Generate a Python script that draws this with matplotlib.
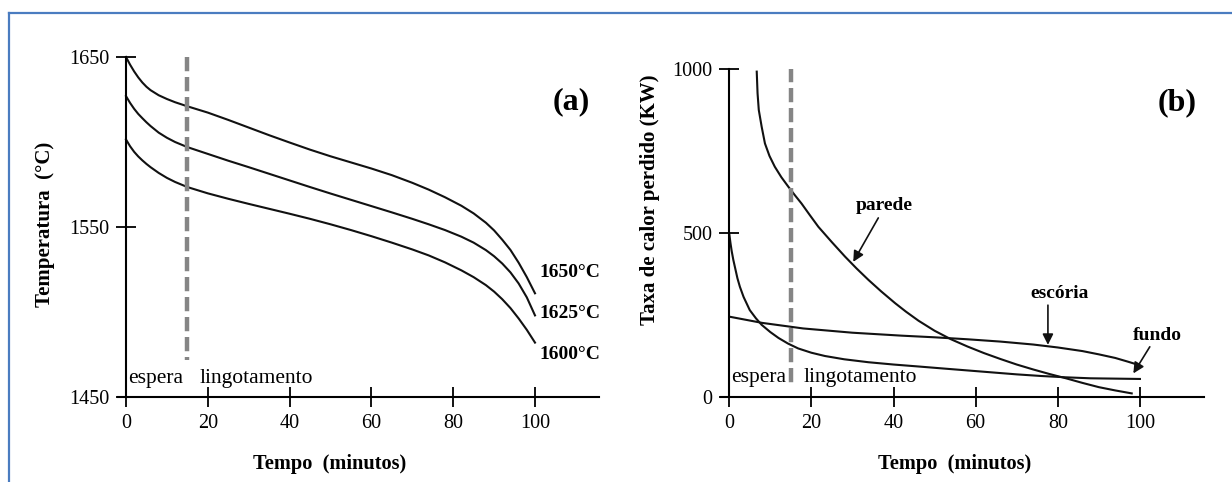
import matplotlib
matplotlib.use("Agg")
import matplotlib.pyplot as plt
from matplotlib.lines import Line2D

plt.rcParams['font.family'] = ['Liberation Serif', 'DejaVu Serif']

# painel (a): temperatura do aço na panela
tempo_a = [0, 1, 2, 3, 4, 5, 6, 8, 10, 12, 15, 20, 25, 30, 35, 40, 45, 50, 55, 60,
           65, 70, 74, 78, 82, 85, 88, 90, 92, 94, 96, 98, 100]
temp_1650 = [1650, 1645.5, 1641.5, 1638, 1635, 1632.5, 1630.5, 1627.5, 1625.3, 1623.4, 1621,
             1617.3, 1613, 1608.5, 1604, 1599.7, 1595.5, 1591.6, 1588, 1584.4, 1580.5, 1576,
             1572, 1567.5, 1562.5, 1558, 1552.5, 1548, 1542.5, 1536.5, 1529, 1520.5, 1511]
temp_1625 = [1627, 1623, 1619.5, 1616.5, 1614, 1611.6, 1609.4, 1605.5, 1602.5, 1600, 1597,
             1593, 1589, 1585.2, 1581.3, 1577.4, 1573.5, 1569.7, 1566, 1562.3, 1558.6, 1554.8,
             1551.6, 1548.2, 1544.3, 1540.8, 1536.4, 1532.8, 1528.5, 1523.3, 1516.8, 1508.6, 1498]
temp_1600 = [1601.5, 1597.5, 1594.2, 1591.5, 1589.2, 1587.1, 1585.2, 1581.8, 1578.9, 1576.5,
             1573.5, 1569.8, 1566.6, 1563.6, 1560.7, 1557.8, 1554.8, 1551.6, 1548.2, 1544.6,
             1540.8, 1536.8, 1533.3, 1529.2, 1524.5, 1520.5, 1515.8, 1512, 1507.5, 1502.3,
             1496.2, 1489.5, 1482]
rotulos_a = ['1650°C', '1625°C', '1600°C']
pos_rotulos_a = [1523, 1499, 1475]

# painel (b): taxa de calor perdido
tempo_parede = [6.7, 6.9, 7.2, 7.9, 8.7, 9.8, 11.1, 12.7, 14.4, 16, 17.6, 19.6, 21.7, 25,
                28.2, 31, 33.9, 37, 40.4, 43, 46.1, 50, 54, 58, 62, 66, 70, 74, 78, 82,
                86, 90, 94, 98]
q_parede = [992, 926, 875, 824, 773, 735, 702, 670, 641, 615, 590, 555, 519, 472, 428, 392,
            357, 322, 286, 260.5, 232.5, 202, 176, 154, 134, 116, 99, 84, 70, 57, 43, 30, 20, 11]
tempo_fundo = [0, 0.3, 0.6, 1.0, 1.5, 2.0, 2.6, 3.5, 5.0, 6.5, 7.9, 10, 12, 14.3, 16.8, 20,
               23.3, 28, 33.9, 40, 46.1, 52, 58, 64, 70, 76, 82, 88, 94, 100]
q_fundo = [499, 470, 445, 418, 390, 362, 336, 305, 265, 240, 220, 198, 180, 163, 148, 135,
           125, 115, 106, 99, 93, 87, 81, 75, 69, 64, 60, 57, 56, 55]
tempo_escoria = [0, 8, 18, 30, 42, 50, 58, 66, 74, 80, 86, 90, 94, 97, 99.6]
q_escoria = [245, 226, 209, 196, 187, 182, 176, 169, 160, 151, 140, 130, 119, 108, 98]

fim_espera = 15
xticks = [0, 20, 40, 60, 80, 100]

fig = plt.figure(figsize=(12.32, 4.82), dpi=100)
ax_a = fig.add_axes([117.8 / 1232, 1 - 397 / 482, 481 / 1232, 340 / 482])
ax_b = fig.add_axes([721 / 1232, 1 - 397 / 482, 483 / 1232, 328 / 482])

for ax in (ax_a, ax_b):
    for s in ('top', 'right'):
        ax.spines[s].set_visible(False)
    ax.spines['left'].set_position(('data', 0))
    ax.spines['left'].set_linewidth(1.5)
    ax.spines['bottom'].set_linewidth(1.5)
    ax.tick_params(direction='inout', length=14, width=1.3, labelsize=14.5, pad=5)
    ax.set_xticks(xticks)
    ax.set_xlim(-2, 115.6)
    ax.set_facecolor('none')

# (a)
ax_a.set_ylim(1450, 1650)
ax_a.set_yticks([1450, 1550, 1650])
for temp in (temp_1650, temp_1625, temp_1600):
    ax_a.plot(tempo_a, temp, color='#111111', lw=1.5, clip_on=False)
for txt, y in zip(rotulos_a, pos_rotulos_a):
    ax_a.text(101.2, y, txt, fontsize=14, fontweight='bold', va='center', ha='left')
ax_a.plot([fim_espera, fim_espera], [1650, 1472], color='#858585', lw=3.2,
          linestyle=(0, (3.2, 1.3)))
ax_a.text(0.6, 1461, 'espera', fontsize=15.5, va='center', ha='left')
ax_a.text(18, 1461, 'lingotamento', fontsize=15.5, va='center', ha='left')
ax_a.text(108.8, 1623.5, '(a)', fontsize=23, fontweight='bold', ha='center', va='center')
ax_a.set_xlabel('Tempo  (minutos)', fontsize=14.7, fontweight='bold')
ax_a.set_ylabel('Temperatura  (°C)', fontsize=15, fontweight='bold')
ax_a.xaxis.set_label_coords(0.441, -0.168)
ax_a.yaxis.set_label_coords(-0.130, 0.509)

# (b)
ax_b.set_ylim(0, 1000)
ax_b.set_yticks([0, 500, 1000])
ax_b.plot(tempo_parede, q_parede, color='#111111', lw=1.5, clip_on=False)
ax_b.plot(tempo_fundo, q_fundo, color='#111111', lw=1.5, clip_on=False)
ax_b.plot(tempo_escoria, q_escoria, color='#111111', lw=1.5, clip_on=False)
ax_b.plot([fim_espera, fim_espera], [1003, 30], color='#858585', lw=3.2,
          linestyle=(0, (3.2, 1.3)))
ax_b.text(0.5, 58, 'espera', fontsize=15.5, va='center', ha='left')
ax_b.text(18, 58, 'lingotamento', fontsize=15.5, va='center', ha='left')
ax_b.text(109, 896, '(b)', fontsize=23, fontweight='bold', ha='center', va='center')

seta = dict(arrowstyle='-|>', color='#111111', lw=1.2, mutation_scale=16, shrinkA=0, shrinkB=0)
ax_b.text(37.8, 585, 'parede', fontsize=14, fontweight='bold', ha='center', va='center')
ax_b.annotate('', xy=(30.2, 412), xytext=(36.3, 546), arrowprops=seta)
ax_b.text(80.5, 316, 'escória', fontsize=14, fontweight='bold', ha='center', va='center')
ax_b.annotate('', xy=(77.6, 159), xytext=(77.6, 280), arrowprops=seta)
ax_b.text(104.3, 189, 'fundo', fontsize=14, fontweight='bold', ha='center', va='center')
ax_b.annotate('', xy=(98.4, 72), xytext=(102.4, 153), arrowprops=seta)
ax_b.set_xlabel('Tempo  (minutos)', fontsize=14.7, fontweight='bold')
ax_b.set_ylabel('Taxa de calor perdido (KW)', fontsize=15, fontweight='bold')
ax_b.xaxis.set_label_coords(0.484, -0.174)
ax_b.yaxis.set_label_coords(-0.126, 0.60)

# moldura azul
yb = 1 - 13 / 482
xb = 9 / 1232
fig.add_artist(Line2D([xb, 1], [yb, yb], color='#4a7cc0', lw=1.6))
fig.add_artist(Line2D([xb, xb], [0, yb], color='#4a7cc0', lw=1.6))

fig.savefig('out.png', dpi=100)
